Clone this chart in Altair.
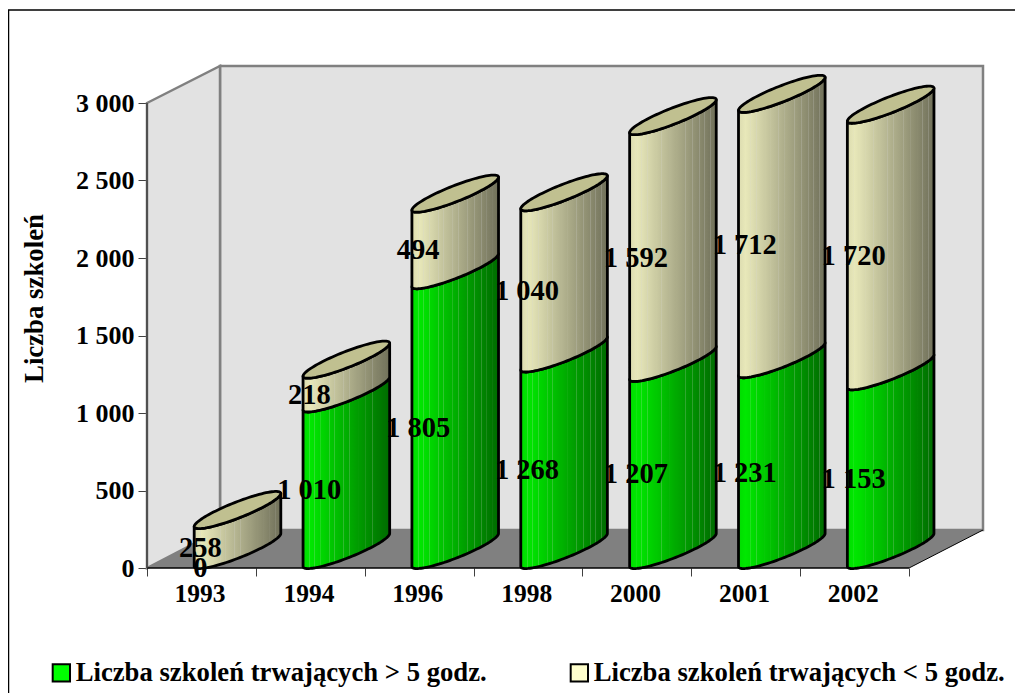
import math
import altair as alt
import pandas as pd

categories = ["1993", "1994", "1996", "1998", "2000", "2001", "2002"]
long_course = [0, 1010, 1805, 1268, 1207, 1231, 1153]
short_course = [258, 218, 494, 1040, 1592, 1712, 1720]
series_names = ["Liczba szkoleń trwających > 5 godz.", "Liczba szkoleń trwających < 5 godz."]
y_ticks = [0, 500, 1000, 1500, 2000, 2500, 3000]

FONT = "Liberation Serif"
PX_PER_BAND = 108.86
PX_PER_UNIT = 0.155
W, H = 836, 502
x_scale = alt.Scale(domain=[0, W / PX_PER_BAND], nice=False, zero=False)
y_scale = alt.Scale(domain=[0, H / PX_PER_UNIT], nice=False, zero=False)

DEPTH_X = 73 / PX_PER_BAND
DEPTH_Y = 38 / PX_PER_UNIT
TOP = H / PX_PER_UNIT
RIGHT = W / PX_PER_BAND

x_axis = alt.Axis(
    values=list(range(8)), title=None, grid=False, domain=False,
    tickSize=8, tickColor="#404040", tickWidth=1,
    labelExpr="datum.value < 7 ? ['1993','1994','1996','1998','2000','2001','2002'][datum.value] : ''",
    labelOffset=52.6, labelFont=FONT, labelFontWeight="bold", labelFontSize=25.5,
    labelColor="black", labelPadding=5, labelFlush=False, labelOverlap=False, labelAngle=0, labelBound=False)
y_axis = alt.Axis(
    values=y_ticks, title="Liczba szkoleń", grid=False, domain=False,
    tickSize=9, tickColor="#404040", tickWidth=1,
    labelExpr="replace(format(datum.value, ','), ',', ' ')",
    labelFont=FONT, labelFontWeight="bold", labelFontSize=26, labelColor="black",
    labelPadding=4, labelFlush=False, labelOverlap=False, labelBound=False,
    titleFont=FONT, titleFontWeight="bold", titleFontSize=26.8, titleColor="black",
    titleX=-113, titleY=232, titleAlign="center", titleBaseline="middle", titleAngle=270)
X = lambda f: alt.X(f, scale=x_scale, axis=x_axis, title=None)
Y = lambda f, **k: alt.Y(f, scale=y_scale, axis=y_axis, title="Liczba szkoleń", **k)


def shade(rgb, k):
    return "#%02x%02x%02x" % tuple(min(255, int(c * k)) for c in rgb)


def gradient(rgb, dark):
    stops = []
    stripes = [0.07, 0.13, 0.2, 0.3, 0.36, 0.46, 0.53, 0.64, 0.72, 0.8, 0.86, 0.93]

    def level(f):
        if f < 0.08:
            return 0.86 + f * 0.6
        return 0.91 - (f - 0.08) * (0.91 - dark) / 0.92

    positions = sorted({0.0, 0.08, 1.0} | set(stripes))
    for f in positions:
        col = shade(rgb, level(f))
        stops.append(alt.GradientStop(color=col, offset=f))
        if f in stripes:
            base = [min(255, int(c * level(f))) for c in rgb]
            light = "#%02x%02x%02x" % tuple(int(c + (215 - c) * 0.22) for c in base)
            stops.append(alt.GradientStop(color=light, offset=f + 0.002))
            stops.append(alt.GradientStop(color=light, offset=f + 0.008))
            stops.append(alt.GradientStop(color=col, offset=f + 0.01))
    return alt.LinearGradient(gradient="linear", stops=stops, x1=0, x2=1, y1=0, y2=0)


GREEN_FILL = gradient((0, 255, 0), 0.42)
CREAM_FILL = gradient((255, 255, 204), 0.44)
CAP_FILL = "#c0c090"

# ellipse of a cylinder, in pixels around its centre
A, BX, BY = 43.3, 16.5, 8.5
CENTRE = 90.5
LIFT = 18.0
THETA = [math.pi + math.pi * i / 48 for i in range(49)]


def front_arc(i, value):
    return [(i + (CENTRE + A * math.cos(t)) / PX_PER_BAND,
             value + (LIFT + BX * math.cos(t) + BY * math.sin(t)) / PX_PER_UNIT) for t in THETA]


def back_arc(i, value):
    return [value + (LIFT + BX * math.cos(t) - BY * math.sin(t)) / PX_PER_UNIT for t in THETA]


body_rows = {0: [], 1: []}
cap_rows = []
for i in range(len(categories)):
    lo, hi = long_course[i], long_course[i] + short_course[i]
    for s, (a, b) in enumerate([(0, lo), (lo, hi)]):
        if b > a:
            for (x, y0), (_, y1) in zip(front_arc(i, a), front_arc(i, b)):
                body_rows[s].append({"c": i, "x": x, "y": y1, "y2": y0})
    for (x, y), yb in zip(front_arc(i, hi), back_arc(i, hi)):
        cap_rows.append({"c": i, "x": x, "y": yb, "y2": y})


def shape(rows, **mark):
    return alt.Chart(pd.DataFrame(rows)).mark_area(**mark).encode(
        x=X("x:Q"),
        y=Y("y:Q", stack=None),
        y2="y2:Q",
        detail="c:N",
    )


one = pd.DataFrame({"a": [0]})
frame = alt.Chart(one).mark_rect(filled=False, stroke="black", strokeWidth=1.5).encode(
    x=alt.value(-138.5), x2=alt.value(950), y=alt.value(-56), y2=alt.value(700)
)

legend_df = pd.DataFrame({"s": series_names, "x": [2, 3], "y": [1000, 1000]})
legend_layer = alt.Chart(legend_df).mark_square(size=100, opacity=1).encode(
    x=X("x:Q"),
    y=Y("y:Q"),
    color=alt.Color("s:N", scale=alt.Scale(domain=series_names, range=["#00ff00", "#ffffcc"]),
                    legend=alt.Legend(
                        orient="none", legendX=-99, legendY=593, title=None, direction="horizontal",
                        columns=2, columnPadding=79, symbolType="square", symbolSize=300,
                        symbolStrokeColor="black", symbolStrokeWidth=2, symbolOpacity=1,
                        labelFont=FONT, labelFontWeight="bold", labelFontSize=26.7, labelColor="black",
                        labelOffset=1, labelLimit=500)),
)

back_wall = shape([{"c": 0, "x": DEPTH_X, "y": TOP, "y2": DEPTH_Y}, {"c": 0, "x": RIGHT, "y": TOP, "y2": DEPTH_Y}],
                  color="#e2e2e2", stroke="#808080", strokeWidth=2.5)
left_wall = shape([{"c": 0, "x": 0, "y": 3000, "y2": 0},
                   {"c": 0, "x": DEPTH_X, "y": TOP, "y2": DEPTH_Y}],
                  color="#e2e2e2", stroke="#808080", strokeWidth=2.5)
floor = shape([{"c": 0, "x": 0, "y": 0, "y2": 0},
               {"c": 0, "x": DEPTH_X, "y": DEPTH_Y, "y2": 0},
               {"c": 0, "x": 7, "y": DEPTH_Y, "y2": 0},
               {"c": 0, "x": RIGHT, "y": DEPTH_Y, "y2": DEPTH_Y}], color="#808080")

edge_df = pd.DataFrame({"x": [7, RIGHT], "y": [0, DEPTH_Y]})
edge = alt.Chart(edge_df).mark_line(color="black", strokeWidth=1).encode(x=X("x:Q"), y=Y("y:Q"))
base_line = alt.Chart(pd.DataFrame({"x": [0], "x2": [7], "y": [0]})).mark_rule(color="black", strokeWidth=1.5).encode(
    x=X("x:Q"), x2="x2:Q", y=Y("y:Q"))
y_line = alt.Chart(pd.DataFrame({"x": [0], "y": [0], "y2": [3000]})).mark_rule(color="#404040", strokeWidth=1.5).encode(
    x=X("x:Q"), y=Y("y:Q"), y2="y2:Q")

outline = dict(stroke="black", strokeWidth=2.8, strokeJoin="round")
green = shape(body_rows[0], color=GREEN_FILL, **outline)
cream = shape(body_rows[1], color=CREAM_FILL, **outline)
caps = shape(cap_rows, color=CAP_FILL, **outline)

label_rows = []
for i in range(len(categories)):
    for v, mid in [(long_course[i], long_course[i] / 2), (short_course[i], long_course[i] + short_course[i] / 2)]:
        label_rows.append({"x": i + 0.5, "y": mid, "t": f"{v:,}".replace(",", " ")})
labels = alt.Chart(pd.DataFrame(label_rows)).mark_text(
    font=FONT, fontWeight="bold", fontSize=28.5, color="black", baseline="middle", align="center", dx=-1
).encode(x=X("x:Q"), y=Y("y:Q"), text="t:N")

chart = alt.layer(frame, legend_layer, back_wall, left_wall, floor, edge, base_line, y_line,
                  green, cream, caps, labels).properties(
    width=W, height=H,
    autosize=alt.AutoSizeParams(type="none"),
    padding={"left": 139, "top": 58, "right": 32, "bottom": 125},
    background="white",
).configure_view(stroke=None)

chart.save("out.html", embed_options={"renderer": "svg", "actions": False})
